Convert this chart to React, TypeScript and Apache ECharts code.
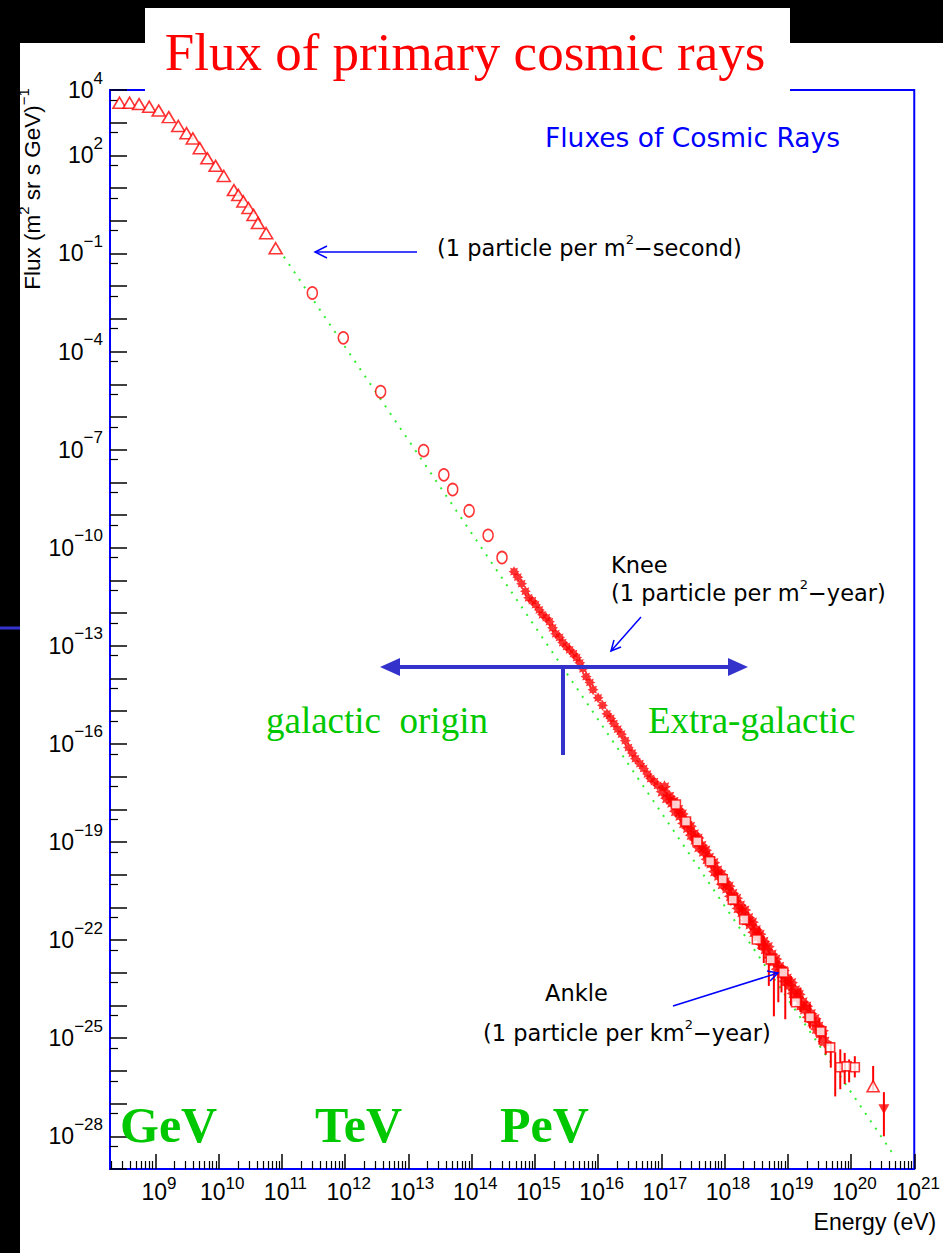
import React, { useEffect, useRef } from 'react';
import * as echarts from 'echarts';

// All measurements are stored as log10(E / eV) and log10(flux / (m^2 sr s GeV)^-1).

// Direct measurements at low energy (open triangles)
const lowEnergyLogE = [8.43, 8.59, 8.74, 8.90, 9.05, 9.21, 9.36, 9.49, 9.59, 9.70, 9.82, 9.95, 10.08, 10.24, 10.31, 10.39, 10.47, 10.55, 10.62, 10.75, 10.90];
const lowEnergyLogF = [3.61, 3.61, 3.57, 3.49, 3.37, 3.17, 2.90, 2.68, 2.52, 2.22, 1.91, 1.68, 1.37, 0.94, 0.79, 0.59, 0.39, 0.18, -0.07, -0.38, -0.84];

// Balloon / satellite points (open circles)
const directLogE = [11.48, 11.97, 12.56, 13.24, 13.56, 13.70, 13.96, 14.26, 14.48];
const directLogF = [-2.21, -3.58, -5.23, -7.03, -7.77, -8.22, -8.87, -9.62, -10.30];

// Air-shower arrays around the knee (asterisks)
const kneeLogE = [14.67, 14.73, 14.79, 14.85, 14.90, 14.96, 15.01, 15.07, 15.12, 15.18, 15.23, 15.28, 15.33, 15.39, 15.44, 15.50, 15.55, 15.61, 15.66, 15.71, 15.76, 15.81, 15.87, 15.92, 16.00, 16.07, 16.14, 16.20, 16.25, 16.31, 16.37, 16.43, 16.48, 16.54, 16.59, 16.66, 16.72, 16.78, 16.83, 16.89, 16.94];
const kneeLogF = [-10.73, -10.90, -11.10, -11.33, -11.53, -11.62, -11.74, -11.90, -12.05, -12.14, -12.26, -12.45, -12.63, -12.74, -12.90, -13.02, -13.12, -13.24, -13.36, -13.52, -13.70, -13.94, -14.12, -14.34, -14.59, -14.82, -15.08, -15.22, -15.38, -15.55, -15.70, -15.90, -16.11, -16.28, -16.45, -16.60, -16.75, -16.92, -17.06, -17.15, -17.27];

// Dense air-shower data up to the ankle (filled markers, two arrays)
const showerLogE = [17.02, 17.09, 17.17, 17.23, 17.30, 17.36, 17.42, 17.48, 17.54, 17.60, 17.67, 17.73, 17.79, 17.85, 17.91, 17.97, 18.04, 18.10, 18.16, 18.22, 18.28, 18.35, 18.41, 18.47, 18.53, 18.59, 18.65, 18.72, 18.78, 18.84, 18.90, 18.96, 19.02, 19.09, 19.15, 19.21, 19.27, 19.33, 19.39, 19.46, 19.52, 19.58];
const showerLogF = [-17.46, -17.66, -17.80, -18.06, -18.20, -18.43, -18.57, -18.79, -18.93, -19.16, -19.30, -19.53, -19.66, -19.90, -20.03, -20.29, -20.42, -20.66, -20.80, -21.03, -21.15, -21.40, -21.52, -21.76, -21.89, -22.13, -22.28, -22.53, -22.66, -22.89, -23.02, -23.26, -23.38, -23.63, -23.75, -24.00, -24.12, -24.36, -24.50, -24.72, -24.86, -25.10];
const shower2LogE = [17.05, 17.13, 17.20, 17.27, 17.33, 17.40, 17.46, 17.52, 17.58, 17.64, 17.70, 17.76, 17.83, 17.89, 17.95, 18.01, 18.07, 18.13, 18.19, 18.25, 18.32, 18.38, 18.44, 18.50, 18.56, 18.62, 18.69, 18.75, 18.81, 18.87, 18.93, 18.99, 19.06, 19.12, 19.18, 19.24, 19.30, 19.37, 19.43, 19.49, 19.55];
const shower2LogF = [-17.31, -17.60, -17.76, -18.00, -18.14, -18.39, -18.52, -18.75, -18.88, -19.10, -19.25, -19.47, -19.63, -19.86, -19.99, -20.22, -20.35, -20.57, -20.72, -20.93, -21.08, -21.31, -21.45, -21.68, -21.82, -22.04, -22.20, -22.43, -22.58, -22.80, -22.93, -23.16, -23.30, -23.52, -23.66, -23.89, -24.02, -24.25, -24.40, -24.63, -24.77];

// Fluorescence data (open squares)
const fluoLogE = [17.23, 17.39, 17.57, 17.77, 17.97, 18.13, 18.31, 18.51, 18.73, 18.93, 19.13, 19.35, 19.52, 19.67, 19.83, 19.93, 20.06];
const fluoLogF = [-17.85, -18.37, -18.98, -19.59, -20.14, -20.76, -21.37, -21.98, -22.59, -22.99, -23.90, -24.36, -24.79, -25.28, -25.89, -25.86, -25.89];

// Highest-energy events
const topLogE = [20.35];
const topLogF = [-26.47];
const limitLogE = [20.52];
const limitLogF = [-27.17];

// Vertical error bars: energy, lower and upper flux
const errLogE = [18.55, 18.62, 18.70, 18.78, 18.85, 18.90, 18.96, 19.05, 19.20, 19.35, 19.50, 19.60, 19.68, 19.75, 19.83, 19.90, 19.97, 20.06, 20.35, 20.52];
const errLow = [-22.30, -22.70, -23.40, -24.33, -23.90, -23.60, -24.42, -24.00, -24.20, -24.70, -25.20, -25.50, -25.90, -26.78, -26.56, -26.40, -26.35, -26.20, -26.60, -28.00];
const errHigh = [-21.60, -21.90, -22.40, -22.99, -22.70, -22.75, -22.80, -23.10, -23.45, -23.95, -24.40, -24.80, -25.10, -25.43, -25.34, -25.45, -25.65, -25.55, -25.85, -26.65];

// Power-law reference line
const fitLogE = [10.95, 20.65];
const fitLogF = [-0.87, -28.5];

// Axes
const xMin = 8.28;
const xMax = 21;
const yMin = -29;
const yMax = 4;
const xDecades = [9, 10, 11, 12, 13, 14, 15, 16, 17, 18, 19, 20, 21];
const yDecades = [-29, -28, -27, -26, -25, -24, -23, -22, -21, -20, -19, -18, -17, -16, -15, -14, -13, -12, -11, -10, -9, -8, -7, -6, -5, -4, -3, -2, -1, 0, 1, 2, 3, 4];
const yLabelValues = [4, 2, -1, -4, -7, -10, -13, -16, -19, -22, -25, -28];
const minorMultipliers = [2, 3, 4, 5, 6, 7, 8, 9];

const RED = '#ff0000';
const BLUE = '#0000ff';
const SLIDE_BLUE = '#3333cc';
const SLIDE_GREEN = '#00c800';

// eight-armed star used for the air-shower points
const STAR =
  'path://M10,5L7.8,6.2L8.54,8.54L6.2,7.8L5,10L3.8,7.8L1.46,8.54L2.2,6.2L0,5L2.2,3.8L1.46,1.46L3.8,2.2L5,0L6.2,2.2L8.54,1.46L7.8,3.8Z';

const zip = (a: number[], b: number[]) => a.map((v, i) => [v, b[i]]);
const expText = (v: number) => String(v).replace('-', '\u2212');

const xMinorTicks = [8, ...xDecades.slice(0, -1)]
  .flatMap((n) => minorMultipliers.map((k) => n + Math.log10(k)))
  .filter((v) => v > xMin && v < xMax);
const yMinorTicks = yDecades.map((n) => n + Math.log10(5)).filter((v) => v > yMin && v < yMax);

const tickFont = 'Liberation Sans, Arial, sans-serif';
const rootFont = 'DejaVu Sans, Verdana, sans-serif';
const serif = 'Liberation Serif, Times New Roman, serif';

// "10" with a raised exponent
const labelRichY = {
  b: { fontSize: 23, lineHeight: 41, fontFamily: tickFont, color: '#000' },
  e: { fontSize: 17, lineHeight: 16, verticalAlign: 'top' as const, fontFamily: tickFont, color: '#000' },
};
const labelRichX = {
  b: { fontSize: 23, lineHeight: 24, padding: [10, 0, 0, 0], fontFamily: tickFont, color: '#000' },
  e: { fontSize: 17, lineHeight: 18, verticalAlign: 'top' as const, fontFamily: tickFont, color: '#000' },
};

const annRich = {
  t: { fontSize: 22.5, lineHeight: 30, fontFamily: rootFont, color: BLUE },
  s: { fontSize: 13, lineHeight: 14, verticalAlign: 'top' as const, fontFamily: rootFont, color: BLUE },
};

function buildOption(): echarts.EChartsOption {
  const hollow = (symbol: string, size: number | number[]) => ({
    type: 'scatter' as const,
    symbol,
    symbolSize: size,
    itemStyle: { color: '#ffffff', borderColor: RED, borderWidth: 1.6 },
    z: 4,
  });
  const filled = (symbol: string, size: number) => ({
    type: 'scatter' as const,
    symbol,
    symbolSize: size,
    itemStyle: { color: RED },
    z: 4,
  });
  const hiddenLine = { show: false, onZero: false };

  return {
    animation: false,
    backgroundColor: '#000000',
    grid: {
      left: 110,
      top: 90,
      width: 824,
      height: 1079,
      show: true,
      borderColor: BLUE,
      borderWidth: 2,
      backgroundColor: '#ffffff',
    },
    xAxis: [
      {
        type: 'value',
        min: xMin,
        max: xMax,
        position: 'bottom',
        name: 'Energy (eV)',
        nameLocation: 'end',
        nameGap: 22,
        nameMoveOverlap: false,
        nameTextStyle: {
          align: 'right',
          verticalAlign: 'top',
          padding: [41, 0, 0, 0],
          fontSize: 23,
          fontFamily: tickFont,
          color: '#000',
        },
        axisLine: hiddenLine,
        splitLine: { show: false },
        axisTick: { inside: true, length: 15, customValues: xDecades, lineStyle: { color: '#000', width: 1.5 } },
        axisLabel: {
          customValues: xDecades,
          margin: 6,
          padding: [0, 0, 0, 7],
          formatter: (v: number) => `{b|10}{e|${expText(v)}}`,
          rich: labelRichX,
        },
      },
      {
        type: 'value',
        min: xMin,
        max: xMax,
        position: 'bottom',
        axisLine: hiddenLine,
        splitLine: { show: false },
        axisLabel: { show: false },
        axisTick: { inside: true, length: 8, customValues: xMinorTicks, lineStyle: { color: '#000', width: 1.2 } },
      },
    ],
    yAxis: [
      {
        type: 'value',
        min: yMin,
        max: yMax,
        position: 'left',
        axisLine: hiddenLine,
        splitLine: { show: false },
        axisTick: { inside: true, length: 17, customValues: yDecades, lineStyle: { color: '#000', width: 1.5 } },
        axisLabel: {
          customValues: yLabelValues,
          margin: 7,
          formatter: (v: number) => `{b|10}{e|${expText(v)}}`,
          rich: labelRichY,
        },
      },
      {
        type: 'value',
        min: yMin,
        max: yMax,
        position: 'left',
        axisLine: hiddenLine,
        splitLine: { show: false },
        axisLabel: { show: false },
        axisTick: { inside: true, length: 8, customValues: yMinorTicks, lineStyle: { color: '#000', width: 1.2 } },
      },
    ],
    series: [
      {
        name: 'power law',
        type: 'line',
        data: zip(fitLogE, fitLogF),
        symbol: 'none',
        lineStyle: { color: '#33ee33', width: 2, type: [2, 7] },
        z: 1,
      },
      {
        name: 'error bars',
        type: 'custom',
        data: errLogE.map((e, i) => [e, errLow[i], errHigh[i]]),
        encode: { x: 0, y: [1, 2] },
        renderItem: (params: any, api: any) => {
          const lo = api.coord([api.value(0), api.value(1)]);
          const hi = api.coord([api.value(0), api.value(2)]);
          return {
            type: 'line',
            shape: { x1: lo[0], y1: lo[1], x2: hi[0], y2: hi[1] },
            style: { stroke: RED, lineWidth: 2 },
          };
        },
        z: 3,
      },
      { name: 'low energy', ...hollow('triangle', [13, 11]), data: zip(lowEnergyLogE, lowEnergyLogF) },
      { name: 'direct', ...hollow('circle', [10, 12]), data: zip(directLogE, directLogF) },
      { name: 'knee', ...filled(STAR, 11), data: zip(kneeLogE, kneeLogF) },
      { name: 'air showers', ...filled(STAR, 14), data: zip(showerLogE, showerLogF) },
      { name: 'air showers 2', ...filled(STAR, 13), data: zip(shower2LogE, shower2LogF) },
      { name: 'fluorescence', ...hollow('rect', 9), data: zip(fluoLogE, fluoLogF), z: 5 },
      { name: 'highest', ...hollow('triangle', [12, 11]), data: zip(topLogE, topLogF), z: 5 },
      {
        name: 'upper limit',
        type: 'scatter',
        symbol: 'triangle',
        symbolRotate: 180,
        symbolSize: [11, 10],
        itemStyle: { color: RED },
        data: zip(limitLogE, limitLogF),
        z: 5,
      },
    ],
    graphic: [
      // slide background and title box
      { type: 'rect', shape: { x: 20, y: 43, width: 923, height: 1210 }, style: { fill: '#ffffff' }, z: -10, silent: true },
      { type: 'line', shape: { x1: 0, y1: 628, x2: 20, y2: 628 }, style: { stroke: SLIDE_BLUE, lineWidth: 3 }, z: 10 },
      { type: 'rect', shape: { x: 145, y: 8, width: 645, height: 86 }, style: { fill: '#ffffff' }, z: 100 },
      {
        type: 'text',
        x: 465,
        y: 52,
        z: 101,
        style: { text: 'Flux of primary cosmic rays', fill: RED, font: `53px ${serif}`, align: 'center', verticalAlign: 'middle' },
      },
      // y-axis title
      {
        type: 'text',
        x: 32,
        y: 189,
        rotation: Math.PI / 2,
        z: 20,
        style: {
          text: '{a|Flux (m}{s|2}{a| sr s GeV)}{s|\u22121}',
          align: 'center',
          verticalAlign: 'middle',
          rich: {
            a: { fontSize: 22.5, lineHeight: 32, fontFamily: tickFont, fill: '#000' },
            s: { fontSize: 15, lineHeight: 15, verticalAlign: 'top', fontFamily: tickFont, fill: '#000' },
          },
        },
      },
      // plot annotations
      {
        type: 'text', x: 545, y: 137, z: 20,
        style: { text: 'Fluxes of Cosmic Rays', fill: BLUE, font: `26.5px ${rootFont}`, align: 'left', verticalAlign: 'middle' },
      },
      {
        type: 'text', x: 437, y: 248, z: 20,
        style: { text: '{t|(1 particle per m}{s|2}{t|\u2212second)}', rich: annRich, align: 'left', verticalAlign: 'middle' },
      },
      { type: 'line', shape: { x1: 417, y1: 252, x2: 315, y2: 252 }, style: { stroke: BLUE, lineWidth: 1.5 }, z: 20 },
      { type: 'polyline', shape: { points: [[327, 246], [315, 252], [327, 258]] }, style: { stroke: BLUE, lineWidth: 1.5, fill: null }, z: 20 },
      {
        type: 'text', x: 611, y: 565, z: 20,
        style: { text: '{t|Knee}', rich: annRich, align: 'left', verticalAlign: 'middle' },
      },
      {
        type: 'text', x: 611, y: 593, z: 20,
        style: { text: '{t|(1 particle per m}{s|2}{t|\u2212year)}', rich: annRich, align: 'left', verticalAlign: 'middle' },
      },
      { type: 'line', shape: { x1: 641, y1: 617, x2: 611, y2: 651 }, style: { stroke: BLUE, lineWidth: 1.5 }, z: 20 },
      { type: 'polyline', shape: { points: [[621, 647], [611, 651], [614, 640]] }, style: { stroke: BLUE, lineWidth: 1.5, fill: null }, z: 20 },
      {
        type: 'text', x: 545, y: 993, z: 20,
        style: { text: '{t|Ankle}', rich: annRich, align: 'left', verticalAlign: 'middle' },
      },
      {
        type: 'text', x: 483, y: 1033, z: 20,
        style: { text: '{t|(1 particle per km}{s|2}{t|\u2212year)}', rich: annRich, align: 'left', verticalAlign: 'middle' },
      },
      { type: 'line', shape: { x1: 673, y1: 1006, x2: 778, y2: 973 }, style: { stroke: BLUE, lineWidth: 1.5 }, z: 20 },
      { type: 'polyline', shape: { points: [[770, 981], [778, 973], [767, 971]] }, style: { stroke: BLUE, lineWidth: 1.5, fill: null }, z: 20 },
      // galactic / extra-galactic divider
      { type: 'line', shape: { x1: 394, y1: 667, x2: 734, y2: 667 }, style: { stroke: SLIDE_BLUE, lineWidth: 4 }, z: 30 },
      { type: 'polygon', shape: { points: [[380, 667], [400, 658], [400, 676]] }, style: { fill: SLIDE_BLUE }, z: 30 },
      { type: 'polygon', shape: { points: [[748, 667], [728, 658], [728, 676]] }, style: { fill: SLIDE_BLUE }, z: 30 },
      { type: 'line', shape: { x1: 563, y1: 667, x2: 563, y2: 755 }, style: { stroke: SLIDE_BLUE, lineWidth: 4 }, z: 30 },
      {
        type: 'text', x: 266, y: 720, z: 30,
        style: { text: 'galactic  origin', fill: SLIDE_GREEN, font: `37px ${serif}`, align: 'left', verticalAlign: 'middle' },
      },
      {
        type: 'text', x: 648, y: 720, z: 30,
        style: { text: 'Extra-galactic', fill: SLIDE_GREEN, font: `37px ${serif}`, align: 'left', verticalAlign: 'middle' },
      },
      // energy scale names
      {
        type: 'text', x: 120, y: 1125, z: 30,
        style: { text: 'GeV', fill: SLIDE_GREEN, font: `bold 50px ${serif}`, align: 'left', verticalAlign: 'middle' },
      },
      {
        type: 'text', x: 315, y: 1125, z: 30,
        style: { text: 'TeV', fill: SLIDE_GREEN, font: `bold 50px ${serif}`, align: 'left', verticalAlign: 'middle' },
      },
      {
        type: 'text', x: 500, y: 1125, z: 30,
        style: { text: 'PeV', fill: SLIDE_GREEN, font: `bold 50px ${serif}`, align: 'left', verticalAlign: 'middle' },
      },
    ],
  } as echarts.EChartsOption;
}

export default function App() {
  const ref = useRef<HTMLDivElement>(null);

  useEffect(() => {
    document.body.style.margin = '0';
    if (!ref.current) return;
    const chart = echarts.init(ref.current, undefined, { renderer: 'svg' });
    chart.setOption(buildOption());
    return () => chart.dispose();
  }, []);

  return <div ref={ref} style={{ width: 943, height: 1253, background: '#000' }} />;
}
